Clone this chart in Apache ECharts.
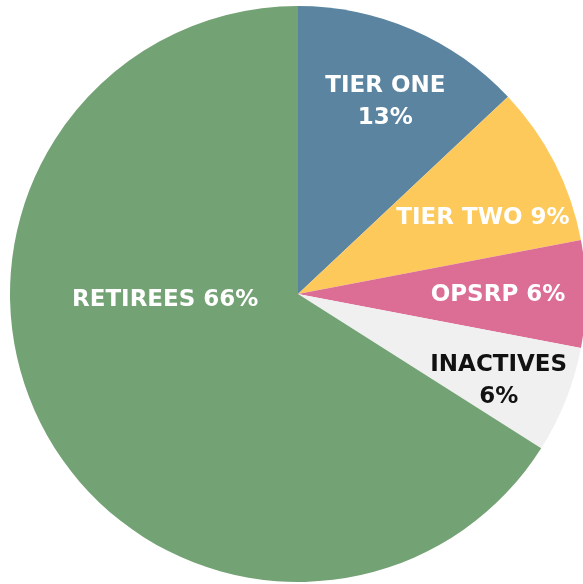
<!DOCTYPE html>
<html>
<head>
<meta charset="utf-8">
<script src="https://cdn.jsdelivr.net/npm/echarts@6/dist/echarts.min.js"></script>
<style>
  html, body { margin: 0; padding: 0; background: #fff; }
  #chart { width: 583px; height: 584px; }
</style>
</head>
<body>
<div id="chart"></div>
<script>
var categories = ['TIER ONE', 'TIER TWO', 'OPSRP', 'INACTIVES', 'RETIREES'];
var values = [13, 9, 6, 6, 66];
var labelText = ['TIER ONE\n13%', 'TIER TWO 9%', 'OPSRP 6%', 'INACTIVES\n6%', 'RETIREES 66%'];
var colors = ['#5a84a0', '#fec95b', '#dc6e95', '#f0f0f0', '#73a274'];
var textColors = ['#fff', '#fff', '#fff', '#111', '#fff'];
// nudges from the default 'inside' spot to where the labels sit
var labelOffsets = [[29, -57], [54, -9], [53, 1], [64, 33], [-4, -65]];

var chart = echarts.init(document.getElementById('chart'), null, { renderer: 'canvas' });

var data = categories.map(function (name, i) {
  return {
    name: name,
    value: values[i],
    itemStyle: { color: colors[i] },
    label: {
      formatter: labelText[i],
      color: textColors[i],
      offset: labelOffsets[i]
    }
  };
});

chart.setOption({
  animation: false,
  series: [{
    type: 'pie',
    center: [298, 294],
    radius: 288,
    startAngle: 90,
    clockwise: true,
    itemStyle: { borderWidth: 0 },
    label: {
      show: true,
      position: 'inside',
      fontFamily: 'DejaVu Sans',
      fontWeight: 'bold',
      fontSize: 23,
      lineHeight: 32,
      align: 'center'
    },
    labelLine: { show: false },
    emphasis: { disabled: true },
    data: data
  }]
});
</script>
</body>
</html>
